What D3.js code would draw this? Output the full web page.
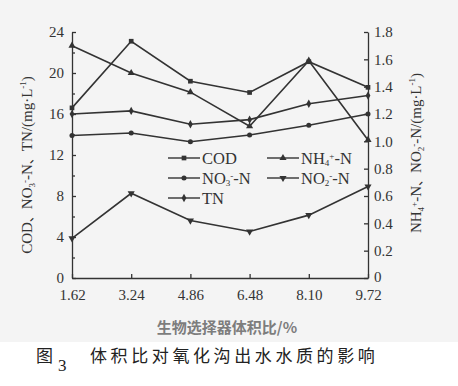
<!DOCTYPE html>
<html lang="zh">
<head>
<meta charset="UTF-8">
<title>体积比对氧化沟出水水质的影响</title>
<style>
  body { margin: 0; background: #fff; }
  svg { display: block; }
  text { font-family: "Liberation Serif", "DejaVu Serif", serif; fill: #333; }
  .cjk { font-family: "Noto Sans CJK SC", sans-serif; }
</style>
</head>
<body>
<svg width="458" height="386"></svg>
<script src="https://d3js.org/d3.v7.min.js"></script>
<script>
// 数据
var ratios = [1.62, 3.24, 4.86, 6.48, 8.10, 9.72];
var cod = [16.6, 23.1, 19.2, 18.1, 21.1, 18.6];
var no3 = [13.9, 14.15, 13.3, 13.95, 14.9, 16.0];
var tn = [16.0, 16.3, 15.0, 15.45, 17.0, 17.8];
var nh4 = [1.70, 1.50, 1.36, 1.11, 1.59, 1.01];
var no2 = [0.29, 0.62, 0.42, 0.34, 0.46, 0.67];
var leftTicks = [0, 4, 8, 12, 16, 20, 24];
var rightTicks = [0, 0.2, 0.4, 0.6, 0.8, 1.0, 1.2, 1.4, 1.6, 1.8];

var marge = {top: 32, bottom: 278, left: 72, right: 368};
var ink = '#333';

var svg = d3.select('svg');
svg.append('rect').attr('width', 458).attr('height', 342).attr('fill', '#f4f4f4');

var x = d3.scaleLinear().domain([1.62, 9.72]).range([marge.left, marge.right]);
var yL = d3.scaleLinear().domain([0, 24]).range([marge.bottom, marge.top]);
var yR = d3.scaleLinear().domain([0, 1.8]).range([marge.bottom, marge.top]);

// 坐标轴
function styleAxis(g) {
  g.selectAll('path,line').attr('stroke', ink).attr('stroke-width', 1.3);
  g.selectAll('text').attr('font-size', 15).attr('fill', ink)
    .attr('font-family', '"Liberation Serif", serif');
}

svg.append('g')
  .attr('transform', `translate(0, ${marge.bottom})`)
  .call(d3.axisBottom(x).tickValues(ratios).tickFormat(d3.format('.2f'))
    .tickSizeInner(-4).tickSizeOuter(0).tickPadding(11))
  .call(styleAxis);

svg.append('g')
  .attr('transform', `translate(${marge.left}, 0)`)
  .call(d3.axisLeft(yL).tickValues(d3.range(0, 25, 2)).tickFormat(d => d % 4 === 0 ? d : '')
    .tickSizeInner(-4).tickSizeOuter(0).tickPadding(8))
  .call(styleAxis)
  .call(g => g.selectAll('.tick').filter(d => d % 4 !== 0).select('line').attr('x2', 3));

svg.append('g')
  .attr('transform', `translate(${marge.right}, 0)`)
  .call(d3.axisRight(yR).tickValues(rightTicks).tickFormat(d => d === 0 ? '0' : d3.format('.1f')(d))
    .tickSizeInner(-4).tickSizeOuter(0).tickPadding(6))
  .call(styleAxis)
  .call(g => g.selectAll('.tick text').filter(d => d === 0).attr('dy', '0.2em'));

// 折线
var series = [
  {name: 'COD', values: cod, y: yL, sym: d3.symbolSquare, size: 22, rot: 0},
  {name: 'NO3', values: no3, y: yL, sym: d3.symbolCircle, size: 20, rot: 0},
  {name: 'TN', values: tn, y: yL, sym: d3.symbolDiamond, size: 20, rot: 0},
  {name: 'NH4', values: nh4, y: yR, sym: d3.symbolTriangle, size: 22, rot: 0},
  {name: 'NO2', values: no2, y: yR, sym: d3.symbolTriangle, size: 22, rot: 180}
];

var line = d3.line();
series.forEach(function (s) {
  var pts = s.values.map((v, i) => [x(ratios[i]), s.y(v)]);
  svg.append('path').attr('d', line(pts))
    .attr('fill', 'none').attr('stroke', ink).attr('stroke-width', 1.6);
  svg.selectAll(null).data(pts).enter().append('path')
    .attr('d', d3.symbol().type(s.sym).size(s.size))
    .attr('transform', d => `translate(${d[0]},${d[1]}) rotate(${s.rot})`)
    .attr('fill', ink);
});

// 图例
var legend = [
  {s: 0, col: 0, row: 0, label: 'COD'},
  {s: 3, col: 1, row: 0, label: 'NH', sub: '4', sup: '+', tail: '-N'},
  {s: 1, col: 0, row: 1, label: 'NO', sub: '3', sup: '-', tail: '-N'},
  {s: 4, col: 1, row: 1, label: 'NO', sub: '2', sup: '-', tail: '-N'},
  {s: 2, col: 0, row: 2, label: 'TN'}
];
legend.forEach(function (l) {
  var x0 = l.col === 0 ? 168 : 267, y0 = 158 + l.row * 20;
  var s = series[l.s];
  svg.append('line').attr('x1', x0).attr('x2', x0 + 32).attr('y1', y0).attr('y2', y0)
    .attr('stroke', ink).attr('stroke-width', 1.4);
  svg.append('path').attr('d', d3.symbol().type(s.sym).size(s.size)())
    .attr('transform', `translate(${x0 + 16},${y0}) rotate(${s.rot})`).attr('fill', ink);
  var t = svg.append('text').attr('x', x0 + 34).attr('y', y0 + 5.5).attr('font-size', 16.5);
  t.append('tspan').text(l.label);
  if (l.sub) {
    t.append('tspan').attr('font-size', 9).attr('dy', 2).text(l.sub);
    t.append('tspan').attr('font-size', 9).attr('dy', -7).text(l.sup);
    t.append('tspan').attr('dy', 5).text(l.tail);
  }
});

// 轴标题
function sciTitle(cx, cy, parts) {
  var t = svg.append('text').attr('transform', `translate(${cx},${cy}) rotate(-90)`)
    .attr('text-anchor', 'middle').attr('font-size', 15);
  parts.forEach(function (p) {
    var ts = t.append('tspan').text(p[0]);
    if (p[1] === 'sub') ts.attr('font-size', 9).attr('dy', 3);
    if (p[1] === 'sup') ts.attr('font-size', 9).attr('dy', p[2] || -8);
    if (p[1] === 'back') ts.attr('dy', p[2]);
    if (p[1] === 'cjk') ts.attr('font-family', '"Noto Sans CJK SC", sans-serif').attr('font-size', 13);
  });
}
sciTitle(32, 165, [['COD'], ['、', 'cjk'], ['NO'], ['3', 'sub'], ['-', 'sup', -7], ['-N', 'back', 4],
  ['、', 'cjk'], ['TN/(mg·L'], ['-1', 'sup', -6], [')', 'back', 6]]);
sciTitle(421, 153, [['NH'], ['4', 'sub'], ['+', 'sup', -7], ['-N', 'back', 4], ['、', 'cjk'],
  ['NO'], ['2', 'sub'], ['-', 'sup', -7], ['-N', 'back', 4], ['/(mg·L'], ['-1', 'sup', -6], [')', 'back', 6]]);

svg.append('text').attr('class', 'cjk').attr('x', 227).attr('y', 333)
  .attr('text-anchor', 'middle').attr('font-size', 15).attr('font-weight', 'bold')
  .style('fill', '#7d7d7d').text('生物选择器体积比/%');

// 图题
svg.append('text').attr('class', 'cjk').attr('x', 36).attr('y', 362)
  .attr('font-size', 17).style('fill', '#222').text('图');
svg.append('text').attr('x', 58).attr('y', 371).attr('font-size', 17).style('fill', '#222').text('3');
svg.append('text').attr('class', 'cjk').attr('x', 90).attr('y', 362)
  .attr('font-size', 17).attr('letter-spacing', 3.6).style('fill', '#222')
  .text('体积比对氧化沟出水水质的影响');
</script>
</body>
</html>
